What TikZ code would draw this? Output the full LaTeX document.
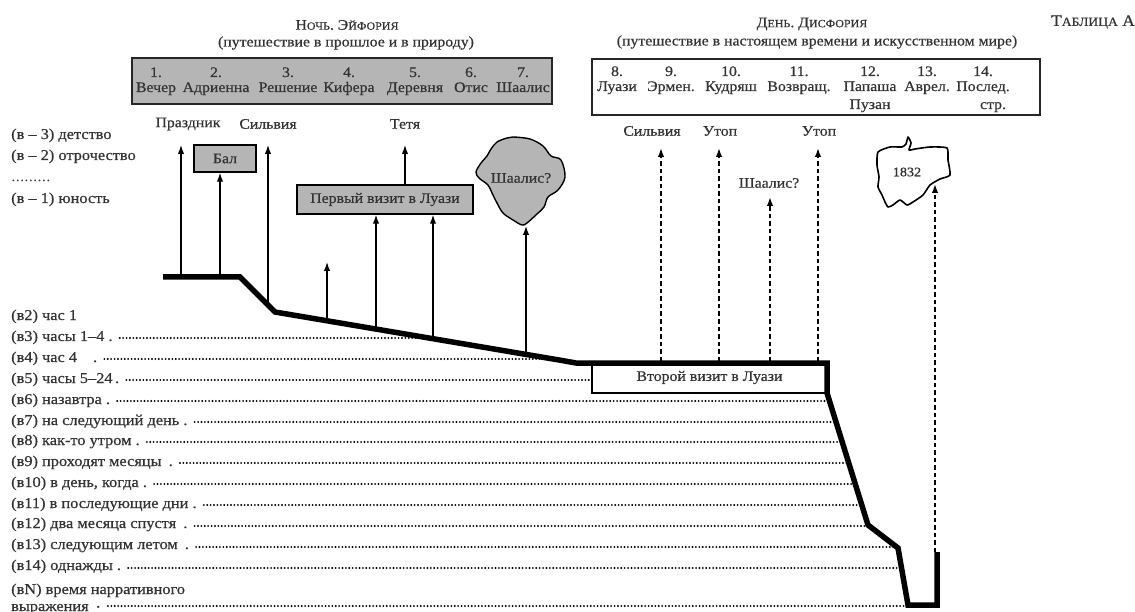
\documentclass[tikz,border=0pt]{standalone}
\usepackage{fontspec}
\setmainfont{Liberation Serif}[FakeStretch=1.09, FakeBold=0.6]
\usetikzlibrary{arrows.meta,calc}
\definecolor{boxgray}{gray}{0.71}
\definecolor{ink}{gray}{0.2}
\newcommand\fsc[1]{{\fontsize{11}{12}\selectfont #1}}
\begin{document}
\begin{tikzpicture}[x=1pt,y=-1pt,
  txt/.style={font=\fontsize{14.5}{16}\selectfont, text=ink, inner sep=0pt},
  lab/.style={font=\fontsize{15}{16}\selectfont, text=ink, inner sep=0pt, anchor=base west},
  gbox/.style={draw=black, line width=1.5pt, fill=boxgray, inner sep=0pt},
  tbox/.style={draw=black!85, line width=2.2pt, inner sep=0pt},
  arr/.style={line width=1.3pt, -{Latex[length=9pt,width=6.5pt]}},
  darr/.style={line width=1.7pt, dash pattern=on 4.5pt off 3pt, -{Latex[length=9pt,width=6.5pt]}},
  dotrow/.style={line width=2.1pt, line cap=round, dash pattern=on 0pt off 3.4pt},
  spine/.style={line width=5.5pt, line join=miter}]
\useasboundingbox (0,0) rectangle (1135,612);

% ---------- headings ----------
\node[txt] (nightT) at (347,25) {Н\fsc{ОЧЬ}. Э\fsc{ЙФОРИЯ}};
\node[txt] (nightS) at (346,43) {(путешествие в прошлое и в природу)};
\node[txt] (dayT) at (812,24) {Д\fsc{ЕНЬ}. Д\fsc{ИСФОРИЯ}};
\node[txt] (dayS) at (817,42) {(путешествие в настоящем времени и искусственном мире)};
\node[txt, font=\fontsize{16}{17}\selectfont] (tabA) at (1093,22) {Т{\fontsize{12.5}{13}\selectfont АБЛИЦА} А};

% ---------- table boxes ----------
\node[tbox, fill=boxgray, minimum width=420pt, minimum height=46pt] (night) at (342,81) {};
\node[tbox, fill=white, minimum width=448pt, minimum height=56pt] (day) at (816,87) {};

\foreach \i/\x/\num/\nm in {1/156/1./Вечер, 2/216/2./Адриенна, 3/288/3./Решение, 4/349/4./Кифера, 5/415/5./Деревня, 6/471/6./Отис, 7/523/7./Шаалис}{
  \node[txt, anchor=base] (num\i) at (\x,77) {\num};
  \node[txt, anchor=base] (col\i) at (\x,92) {\nm};
}
\foreach \i/\x/\num/\nm in {8/617/8./Луази, 9/671/9./Эрмен., 10/731/10./Кудряш, 11/799/11./Возвращ., 12/870/12./Папаша, 13/927/13./Аврел., 14/983/14./Послед.}{
  \node[txt, anchor=base] (num\i) at (\x,76) {\num};
  \node[txt, anchor=base] (col\i) at (\x,91) {\nm};
}
\node[txt, anchor=base] (col12b) at (870,109) {Пузан};
\node[txt, anchor=base] (col14b) at (993,109) {стр.};

% ---------- left labels ----------
\node[lab] (lm3) at (11,139) {(в – 3) детство};
\node[lab] (lm2) at (11,160) {(в – 2) отрочество};
\node[lab, font=\fontsize{12}{12}\selectfont] (ldots) at (11,181) {………};
\node[lab] (lm1) at (11,203) {(в – 1) юность};
\node[lab] (l2) at (11,320) {(в2) час 1};
\node[lab] (l3) at (11,341) {(в3) часы 1–4 .};
\node[lab] (l4) at (11,362) {(в4) час 4\hspace{16pt}.};
\node[lab] (l5) at (11,383) {(в5) часы 5–24\,.};
\node[lab] (l6) at (11,404) {(в6) назавтра .};
\node[lab] (l7) at (11,425) {(в7) на следующий день .};
\node[lab] (l8) at (11,445) {(в8) как-то утром .};
\node[lab] (l9) at (11,466) {(в9) проходят месяцы\hspace{3pt} .};
\node[lab] (l10) at (11,487) {(в10) в день, когда .};
\node[lab] (l11) at (11,508) {(в11) в последующие дни .};
\node[lab] (l12) at (11,528) {(в12) два месяца спустя\hspace{3pt} .};
\node[lab] (l13) at (11,549) {(в13) следующим летом\hspace{3pt} .};
\node[lab] (l14) at (11,570) {(в14) однажды .};
\node[lab] (lN) at (11,594) {(вN) время нарративного};
\node[lab] (lNb) at (11,611) {выражения\hspace{8pt}{\fontsize{8}{8}\selectfont\raisebox{1.5pt}{•}}};

% row ends
\foreach \r/\y/\xe in {3/338/433, 4/359/560, 5/380/592, 6/401/829, 7/422/836, 8/442/842, 9/463/849, 10/484/855, 11/505/862, 12/526/868, 13/547/895, 14/568/901}{
  \coordinate (e\r) at (\xe,\y);
  \path (l\r.east) ++(7,0) coordinate (s\r);
  \draw[dotrow] (s\r |- e\r) -- (e\r);
}
\coordinate (eN) at (907,606);
\path (lNb.east) ++(8,0) coordinate (sN);
\draw[dotrow] (sN |- eN) -- (eN);

% ---------- boxes below ----------
\node[gbox, minimum width=62pt, minimum height=27pt, txt] (bal) at (225,158.5) {Бал};
\node[gbox, minimum width=176pt, minimum height=29pt, txt] (visit1) at (385,199.5) {Первый визит в Луази};
\node[draw=black, line width=1.5pt, fill=white, minimum width=235pt, minimum height=31pt, txt] (visit2) at (709.5,377.5) {Второй визит в Луази};

% Shaalis cloud
\draw[fill=boxgray, line width=1.4pt, line join=round] plot[smooth cycle, tension=0.55] coordinates {
 (513,137) (530,139) (543,146) (551,156) (561,160) (565,177) (558,190) (548,197) (544,207) (537,214) (527,223) (522,225) (513,220) (503,213) (497,203) (492,193) (488,185) (479,178) (476,172) (481,163) (487,156) (491,149) (497,142) (507,138)};
\node[txt] (shaal) at (521,178) {Шаалис?};

% 1832 shape
\draw[fill=white, line width=1.6pt, line join=round] plot[smooth cycle, tension=0.35] coordinates {
 (878,152) (890,147) (902,147) (906,144) (908,137) (911,143) (909,150) (915,149) (930,147) (947,148) (948,160) (950,175) (940,179) (930,185) (923,195) (913,202) (907,205) (900,200) (893,205) (888,207) (885,202) (882,195) (878,187) (879,177) (877,165)};
\node[txt, font=\fontsize{13}{14}\selectfont] (y1832) at (907,172) {1832};

% ---------- top labels ----------
\node[txt] (prazd) at (188,124) {Праздник};
\node[txt] (silv1) at (268,124) {Сильвия};
\node[txt] (tetya) at (405,124) {Тетя};
\node[txt] (silv2) at (652,131) {Сильвия};
\node[txt] (utop1) at (720,131) {Утоп};
\node[txt] (utop2) at (819,131) {Утоп};
\node[txt] (shaal2) at (769,183) {Шаалис?};

% ---------- arrows (solid) ----------
\coordinate (b1) at (181,277); \coordinate (t1) at (181,145);
\coordinate (b2) at (220,277);
\coordinate (b3) at (268,305); \coordinate (t3) at (268,145);
\coordinate (b4) at (327,320.6); \coordinate (t4) at (327,262);
\coordinate (b5) at (376,328.7);
\coordinate (b6) at (433,338);
\coordinate (b7) at (526,353.5); \coordinate (t7) at (526,226);
\coordinate (t8) at (405,145);
\draw[arr] (b1) -- (t1);
\draw[arr] (b2) -- (b2 |- bal.south);
\draw[arr] (b3) -- (t3);
\draw[arr] (b4) -- (t4);
\draw[arr] (b5) -- (b5 |- visit1.south);
\draw[arr] (b6) -- (b6 |- visit1.south);
\draw[arr] (b7) -- (t7);
\draw[arr] (visit1.north -| t8) -- (t8);

% ---------- arrows (dashed) ----------
\coordinate (d1) at (661,361); \coordinate (u1) at (661,148);
\coordinate (d2) at (719,361); \coordinate (u2) at (719,148);
\coordinate (d3) at (770,361); \coordinate (u3) at (770,197);
\coordinate (d4) at (818,361); \coordinate (u4) at (818,148);
\coordinate (d5) at (935,552); \coordinate (u5) at (935,184);
\draw[darr] (d1) -- (u1);
\draw[darr] (d2) -- (u2);
\draw[darr] (d3) -- (u3);
\draw[darr] (d4) -- (u4);
\draw[darr] (d5) -- (u5);

% ---------- time line ----------
\draw[spine] (163,277) -- (240,277) -- (275,312) -- (562,360.5) -- (576,363) -- (827,363) -- (827,393) -- (868,525) -- (898,548) -- (908,605) -- (937,605) -- (937,552);
\end{tikzpicture}
\end{document}
